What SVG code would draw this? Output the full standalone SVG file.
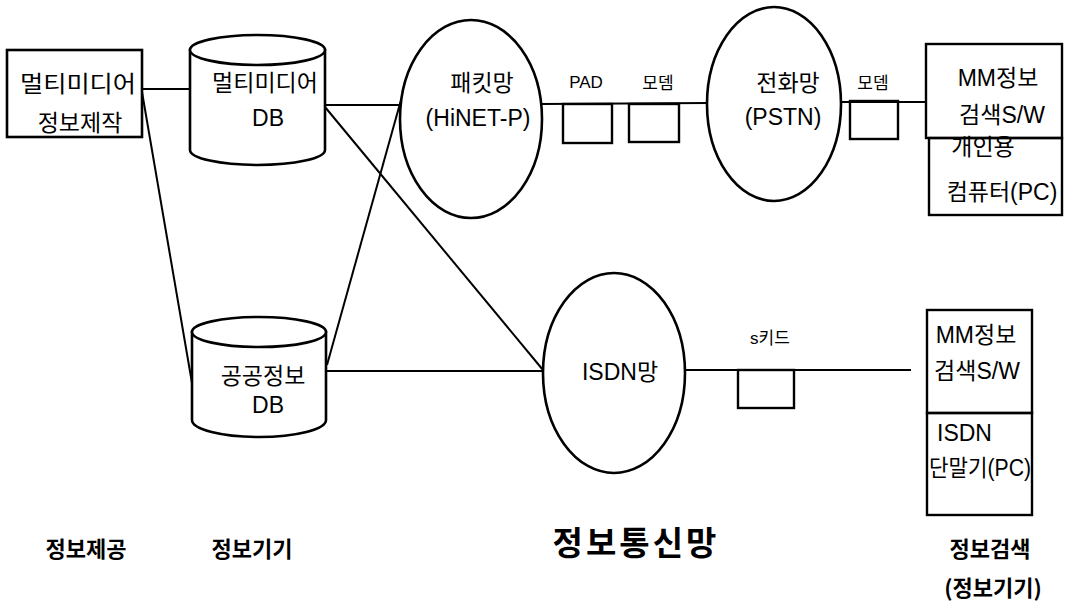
<svg xmlns="http://www.w3.org/2000/svg" width="1076" height="604" viewBox="0 0 1076 604">
  <style>
    .shape { fill: #fff; stroke: #000; stroke-width: 2.6; }
    .box { fill: none; stroke: #000; stroke-width: 2.4; }
    .wire { fill: none; stroke: #000; stroke-width: 2; }
    text { font-family: "Liberation Sans", "Noto Sans CJK KR", sans-serif; fill: #000; }
    .lbl { font-size: 23px; }
    .sm { font-size: 17px; }
    .cap { font-family: "Noto Sans CJK KR", sans-serif; font-size: 22px; font-weight: bold; }
    .title { font-family: "Noto Sans CJK KR", sans-serif; font-size: 33px; font-weight: bold; letter-spacing: 3px; }
  </style>
  <rect width="1076" height="604" fill="#fff"/>

  <!-- connectors -->
  <g id="connectors">
    <line class="wire" x1="142" y1="89" x2="190" y2="89"/>
    <line class="wire" x1="142" y1="92" x2="192" y2="383"/>
    <line class="wire" x1="325" y1="105" x2="401" y2="105"/>
    <line class="wire" x1="325" y1="107" x2="543" y2="370"/>
    <line class="wire" x1="327" y1="365" x2="401" y2="100"/>
    <line class="wire" x1="327" y1="371" x2="543" y2="371"/>
    <line class="wire" x1="542" y1="104" x2="708" y2="103"/>
    <line class="wire" x1="841" y1="102" x2="926" y2="102"/>
    <line class="wire" x1="685" y1="370" x2="911" y2="370"/>
  </g>

  <!-- content production -->
  <g id="mm-production">
    <rect class="shape" x="7" y="50" width="135" height="87"/>
    <text class="lbl" x="78" y="92" text-anchor="middle" textLength="116" lengthAdjust="spacingAndGlyphs">멀티미디어</text>
    <text class="lbl" x="80" y="131" text-anchor="middle">정보제작</text>
  </g>

  <!-- multimedia database -->
  <g id="mm-db">
    <path class="shape" d="M190,50 L190,150 A67.5,15 0 0 0 325,150 L325,50 Z"/>
    <ellipse class="shape" cx="257.5" cy="50" rx="67.5" ry="15"/>
    <text class="lbl" x="265" y="91" text-anchor="middle">멀티미디어</text>
    <text class="lbl" x="268" y="126" text-anchor="middle">DB</text>
  </g>

  <!-- public information database -->
  <g id="public-db">
    <path class="shape" d="M192,332 L192,420 A67,17 0 0 0 326,420 L326,332 Z"/>
    <ellipse class="shape" cx="259" cy="332" rx="67" ry="15"/>
    <text class="lbl" x="263" y="384" text-anchor="middle">공공정보</text>
    <text class="lbl" x="268" y="413" text-anchor="middle">DB</text>
  </g>

  <!-- packet network -->
  <g id="packet-net">
    <ellipse class="shape" cx="471" cy="119" rx="71" ry="99"/>
    <text class="lbl" x="482" y="91" text-anchor="middle">패킷망</text>
    <text class="lbl" x="478" y="126" text-anchor="middle">(HiNET-P)</text>
  </g>

  <!-- PAD -->
  <g id="pad">
    <rect class="box" x="563" y="104" width="49" height="39"/>
    <text class="sm" x="586" y="88" text-anchor="middle">PAD</text>
  </g>

  <!-- modem on packet side -->
  <g id="modem-1">
    <rect class="box" x="629" y="104" width="50" height="38"/>
    <text class="sm" x="658" y="89" text-anchor="middle">모뎀</text>
  </g>

  <!-- telephone network -->
  <g id="pstn">
    <ellipse class="shape" cx="774" cy="104" rx="67" ry="97"/>
    <text class="lbl" x="788" y="91" text-anchor="middle">전화망</text>
    <text class="lbl" x="783" y="125" text-anchor="middle">(PSTN)</text>
  </g>

  <!-- modem on subscriber side -->
  <g id="modem-2">
    <rect class="box" x="850" y="101" width="48" height="38"/>
    <text class="sm" x="873" y="89" text-anchor="middle">모뎀</text>
  </g>

  <!-- PC terminal -->
  <g id="pc-terminal">
    <rect class="box" x="929" y="138" width="133" height="77"/>
    <text class="lbl" x="983" y="155" text-anchor="middle">개인용</text>
    <rect class="box" x="926" y="44" width="136" height="94" fill="#fff"/>
    <text class="lbl" x="998" y="86" text-anchor="middle">MM정보</text>
    <text class="lbl" x="1002" y="123" text-anchor="middle">검색S/W</text>
    <text class="lbl" x="1002" y="200" text-anchor="middle">컴퓨터(PC)</text>
  </g>

  <!-- ISDN network -->
  <g id="isdn-net">
    <ellipse class="shape" cx="614" cy="373" rx="71" ry="100"/>
    <text class="lbl" x="620" y="380" text-anchor="middle">ISDN망</text>
  </g>

  <!-- S card -->
  <g id="s-card">
    <rect class="box" x="738" y="370" width="56" height="38"/>
    <text class="sm" x="770" y="344" text-anchor="middle">s키드</text>
  </g>

  <!-- ISDN terminal -->
  <g id="isdn-terminal">
    <rect class="box" x="927" y="310" width="105" height="103"/>
    <rect class="box" x="927" y="413" width="105" height="102"/>
    <text class="lbl" x="976" y="343" text-anchor="middle">MM정보</text>
    <text class="lbl" x="977" y="379" text-anchor="middle">검색S/W</text>
    <text class="lbl" x="937" y="441">ISDN</text>
    <text class="lbl" x="980" y="476" text-anchor="middle" textLength="102" lengthAdjust="spacingAndGlyphs">단말기(PC)</text>
  </g>

  <!-- column captions -->
  <g id="captions">
    <text class="cap" x="86" y="557" text-anchor="middle">정보제공</text>
    <text class="cap" x="252" y="557" text-anchor="middle">정보기기</text>
    <text class="title" x="636" y="555" text-anchor="middle">정보통신망</text>
    <text class="cap" x="990" y="557" text-anchor="middle">정보검색</text>
    <text class="cap" x="993" y="596" text-anchor="middle">(정보기기)</text>
  </g>
</svg>
